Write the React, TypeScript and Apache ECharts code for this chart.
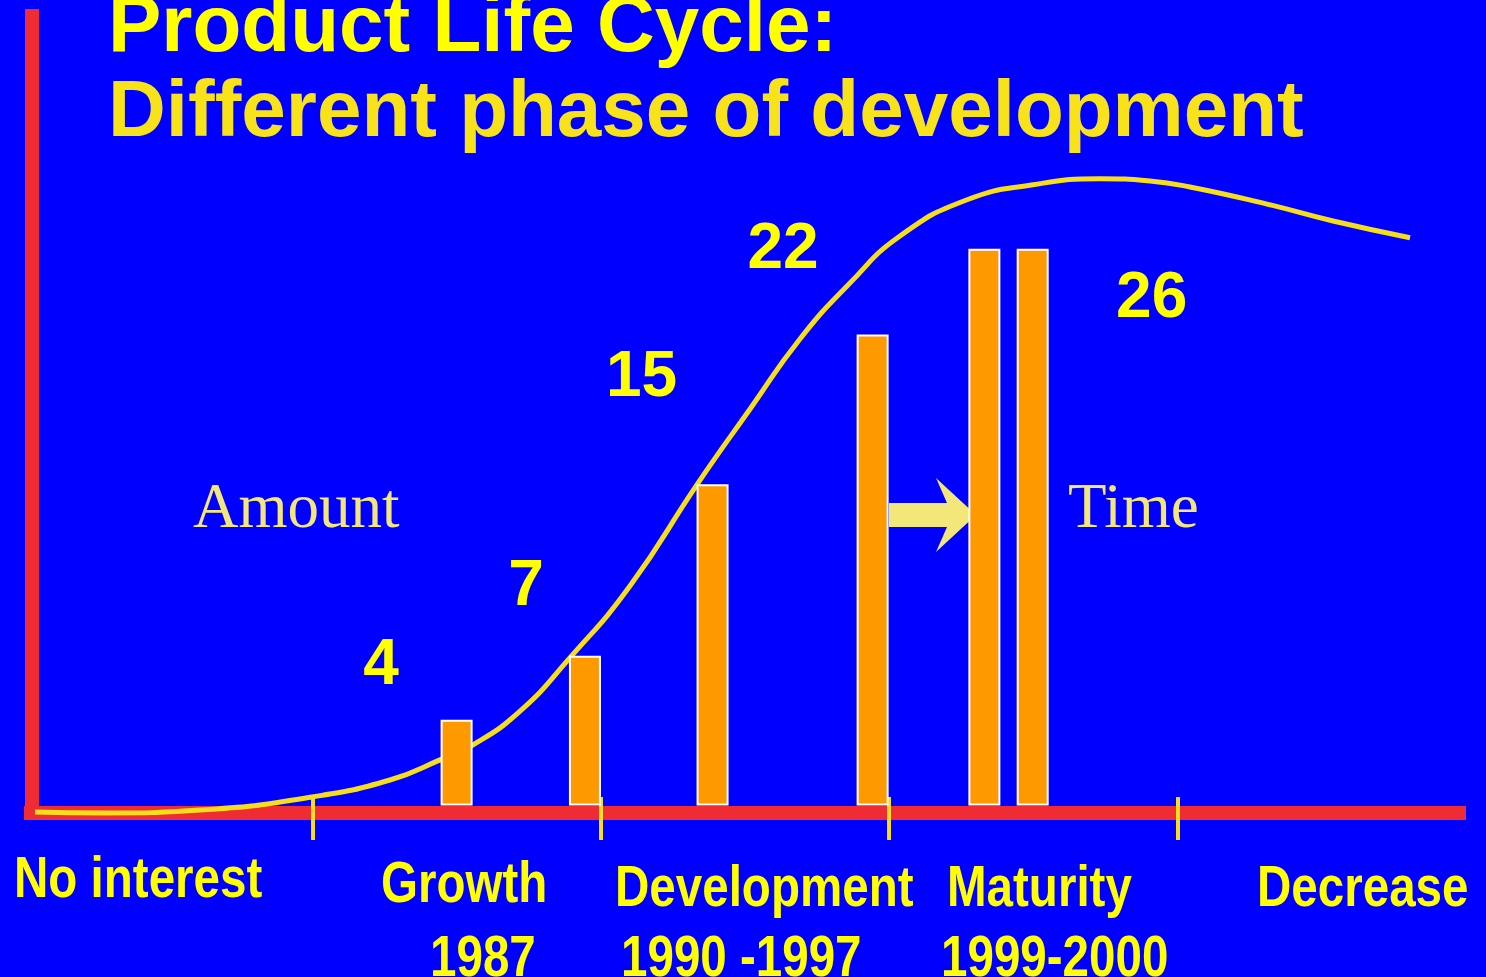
import React, { useEffect, useRef } from "react";
import * as echarts from "echarts";

// ---- data ----
const titleLines = ["Product Life Cycle:", "Different phase of development"];
const phaseNames = ["No interest", "Growth", "Development", "Maturity", "Decrease"];
const phaseYears = ["1987", "1990 -1997", "1999-2000"];
const phaseTicks = [20, 40, 60, 80];
const barX = [30, 38.9, 47.75, 58.85, 66.6, 69.95];
const barValues = [4, 7, 15, 22, 26, 26];
const barLabelShown = [true, true, true, true, false, true];
const curveX = [0.76, 5.62, 12.21, 19.97, 25.38, 28.85, 31.14, 34.4, 37.73, 42.02, 46.74, 50.35, 53.81, 57.28, 60.75, 65.4, 69.97, 74.62, 78.09, 80.86, 86.2, 90.78, 96.12];
const curveY = [-0.3, -0.35, -0.21, 0.4, 1.19, 2.13, 2.83, 4.41, 6.8, 10.25, 15.06, 18.52, 21.79, 24.4, 26.6, 28.29, 28.99, 29.27, 29.17, 28.89, 28.09, 27.3, 26.52];
const axisLabels = ["Amount", "Time"];

// ---- layout (pixels) ----
const labelPos = [[-59.5, -58], [-43, -73], [-55, -110], [-73.5, -88], [0, 0], [135, 46]];
const phasePos = [[14, 877], [381, 882], [615, 886], [947, 886], [1257, 886]];
const yearPos = [[430, 956], [621, 956], [941, 956]];
const axisLabelPos = [[193, 506], [1068, 506]];

export default function App() {
  const ref = useRef<HTMLDivElement>(null);
  useEffect(() => {
    if (!ref.current) return;
    const chart = echarts.init(ref.current, null, { renderer: "svg" });
    const red = "#EF2B33";
    const yellow = "#FFFF00";
    const curveYellow = "#F6DF1A";
    const pale = "#F3E77A";
    const condensed = (text: string, x: number, y: number) => ({
      type: "text",
      x,
      y,
      scaleX: 0.82,
      z: 10,
      style: {
        text,
        x: 0,
        y: 0,
        fill: yellow,
        fontSize: 58,
        fontWeight: "bold",
        fontFamily: "'Liberation Sans', Arial, sans-serif",
        textAlign: "left",
        textVerticalAlign: "middle",
      },
    });
    const option: any = {
      animation: false,
      backgroundColor: "#0000FF",
      grid: { left: 24, right: 20, top: 9, bottom: 164, containLabel: false },
      xAxis: [
        {
          type: "value",
          min: 0,
          max: 100,
          position: "bottom",
          axisLine: { show: true, onZero: false, lineStyle: { color: red, width: 14, cap: "butt" } },
          axisTick: { show: false },
          axisLabel: { show: false },
          splitLine: { show: false },
        },
        {
          type: "value",
          min: 0,
          max: 100,
          position: "bottom",
          offset: -16,
          axisLine: { show: false, onZero: false },
          axisTick: {
            show: true,
            customValues: phaseTicks,
            length: 43,
            inside: false,
            lineStyle: { color: curveYellow, width: 4 },
          },
          axisLabel: { show: false },
          splitLine: { show: false },
        },
      ],
      yAxis: {
        type: "value",
        min: -0.35,
        max: 37.2,
        offset: -7.5,
        axisLine: { show: true, onZero: false, lineStyle: { color: red, width: 14, cap: "butt" } },
        axisTick: { show: false },
        axisLabel: { show: false },
        splitLine: { show: false },
      },
      series: [
        {
          type: "line",
          xAxisIndex: 0,
          data: curveX.map((x, i) => [x, curveY[i]]),
          smooth: 0.5,
          symbol: "none",
          clip: false,
          z: 2,
          lineStyle: { color: curveYellow, width: 5 },
        },
        {
          type: "bar",
          xAxisIndex: 0,
          barWidth: 32,
          z: 3,
          itemStyle: { color: "#FF9900", borderColor: "#FFFFFF", borderWidth: 2 },
          data: barX.map((x, i) => ({
            value: [x, barValues[i]],
            label: {
              show: barLabelShown[i],
              position: labelPos[i],
              align: "center",
              verticalAlign: "middle",
              formatter: String(barValues[i]),
              color: yellow,
              fontSize: 64,
              fontWeight: "bold",
              fontFamily: "'Liberation Sans', Arial, sans-serif",
            },
          })),
        },
      ],
      graphic: [
        {
          type: "polygon",
          z: 0,
          shape: {
            points: [[889, 503], [947, 503], [936, 478], [976, 515], [936, 552], [947, 527], [889, 527]],
          },
          style: { fill: pale },
        },
        {
          type: "text",
          x: 108,
          y: 23,
          z: 10,
          style: {
            text: titleLines[0],
            fill: "#FFFF00",
            fontSize: 80,
            fontWeight: "bold",
            fontFamily: "'Liberation Sans', Arial, sans-serif",
            textAlign: "left",
            textVerticalAlign: "middle",
          },
        },
        {
          type: "text",
          x: 108,
          y: 108,
          z: 10,
          style: {
            text: titleLines[1],
            fill: "#F8E31A",
            fontSize: 80,
            fontWeight: "bold",
            fontFamily: "'Liberation Sans', Arial, sans-serif",
            textAlign: "left",
            textVerticalAlign: "middle",
          },
        },
        ...axisLabels.map((t, i) => ({
          type: "text",
          x: axisLabelPos[i][0],
          y: axisLabelPos[i][1],
          z: 10,
          style: {
            text: t,
            fill: pale,
            fontSize: 63,
            fontFamily: "'Liberation Serif', 'Times New Roman', serif",
            textAlign: "left",
            textVerticalAlign: "middle",
          },
        })),
        ...phaseNames.map((t, i) => condensed(t, phasePos[i][0], phasePos[i][1])),
        ...phaseYears.map((t, i) => condensed(t, yearPos[i][0], yearPos[i][1])),
      ],
    };
    chart.setOption(option);
    return () => chart.dispose();
  }, []);
  return (
    <div
      ref={ref}
      style={{ position: "fixed", left: 0, top: 0, width: 1486, height: 977 }}
    />
  );
}
